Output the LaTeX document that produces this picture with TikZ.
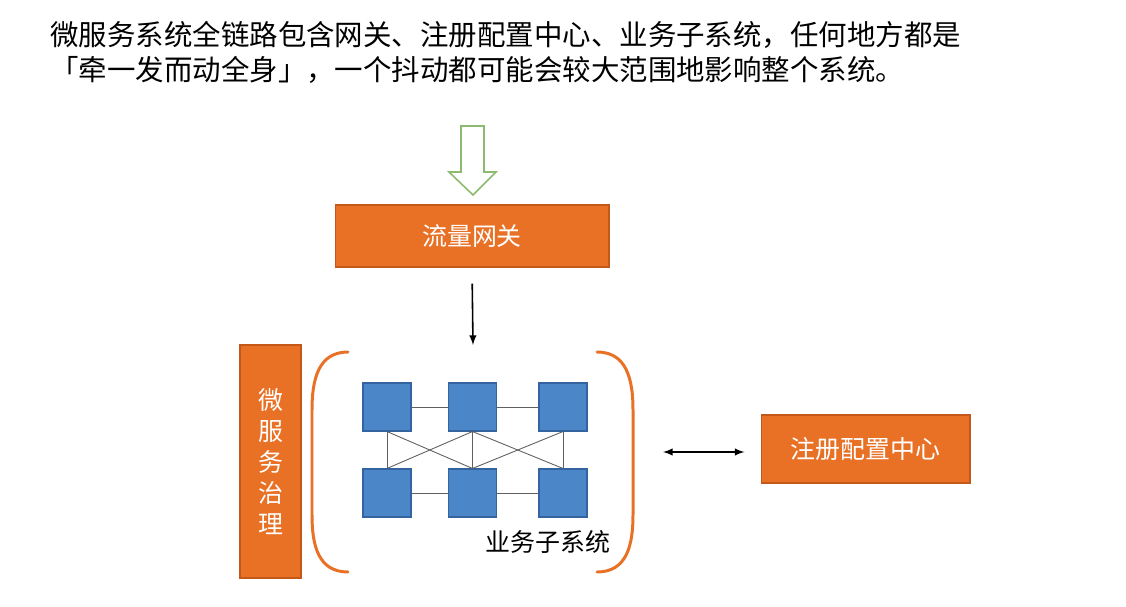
\documentclass[tikz,border=0pt]{standalone}
\usepackage{fontspec}
\newfontfamily\cjk{Noto Sans CJK SC}
\definecolor{boxorange}{RGB}{232,113,38}
\definecolor{boxedge}{RGB}{196,88,24}
\definecolor{svcblue}{RGB}{74,134,200}
\definecolor{svcedge}{RGB}{52,100,160}
\definecolor{inflow}{RGB}{140,186,110}
\begin{document}
\begin{tikzpicture}[x=0.02cm, y=-0.02cm, font=\cjk, >=latex,
          part/.style={draw=boxedge, fill=boxorange, text=white, line width=0.6pt,
                       inner sep=0pt, font=\cjk\fontsize{14.2}{17}\selectfont},
          svc/.style={draw=svcedge, fill=svcblue, minimum size=0.96cm, inner sep=0pt, line width=0.6pt},
          link/.style={gray!75!black, line width=0.5pt},
          paren/.style={boxorange, line width=1.7pt, line cap=round}]
        \useasboundingbox[fill=white] (0,0) rectangle (1126,607);
        \node[anchor=west, align=left, inner sep=0pt, font=\cjk\fontsize{16.2}{20}\selectfont]
          (intro) at (50,52) {微服务系统全链路包含网关、注册配置中心、业务子系统，任何地方都是\\「牵一发而动全身」，一个抖动都可能会较大范围地影响整个系统。};
        % hollow inflow arrow above the gateway
        \draw[inflow, fill=white, line width=0.9pt]
          (461,126) -- (484,126) -- (484,172) -- (496,172) -- (473,195) -- (449,172) -- (461,172) -- cycle;
        \node[part, minimum width=5.48cm, minimum height=1.24cm] (gw) at (472,236) {流量网关};
        \node[part, minimum width=1.22cm, minimum height=4.66cm, align=center,
              font=\cjk\fontsize{14.2}{17.6}\selectfont] (gov) at (270.5,461.5) {微\\服\\务\\治\\理};
        \node[part, minimum width=4.18cm, minimum height=1.36cm] (reg) at (865.5,449) {注册配置中心};
        % six services, two rows of three
        \foreach \r/\y in {1/407, 2/493} {
          \foreach \c/\x in {1/387, 2/472.5, 3/563} {
            \node[svc] (s\r\c) at (\x,\y) {};
          }
        }
        \draw[link] (s11) -- (s12) -- (s13);
        \draw[link] (s21) -- (s22) -- (s23);
        \foreach \c in {1,2,3} {
          \draw[link] (s1\c.south) -- (s2\c.north);
        }
        \draw[link] (s11.south) -- (s22.north);
        \draw[link] (s12.south) -- (s21.north);
        \draw[link] (s12.south) -- (s23.north);
        \draw[link] (s13.south) -- (s22.north);
        \node[anchor=center, inner sep=0pt, font=\cjk\fontsize{14.2}{17}\selectfont] (subsys) at (548,542) {业务子系统};
        % brackets round the business subsystems
        \draw[paren] (348,352) .. controls (318,352) and (312,380) .. (312,410) -- (312,515)
          .. controls (312,545) and (318,572) .. (348,572);
        \draw[paren] (597,352) .. controls (627,352) and (633,380) .. (633,410) -- (633,515)
          .. controls (633,545) and (627,572) .. (597,572);
        \coordinate (subtop) at (473,345);
        \coordinate (subright) at (633,452);
        \draw[->, line width=0.9pt, shorten <=0.32cm] (gw.south) -- (subtop);
        \draw[<->, line width=0.9pt, shorten <=0.6cm, shorten >=0.32cm] (subright) -- (reg.west |- subright);
      \end{tikzpicture}
\end{document}
